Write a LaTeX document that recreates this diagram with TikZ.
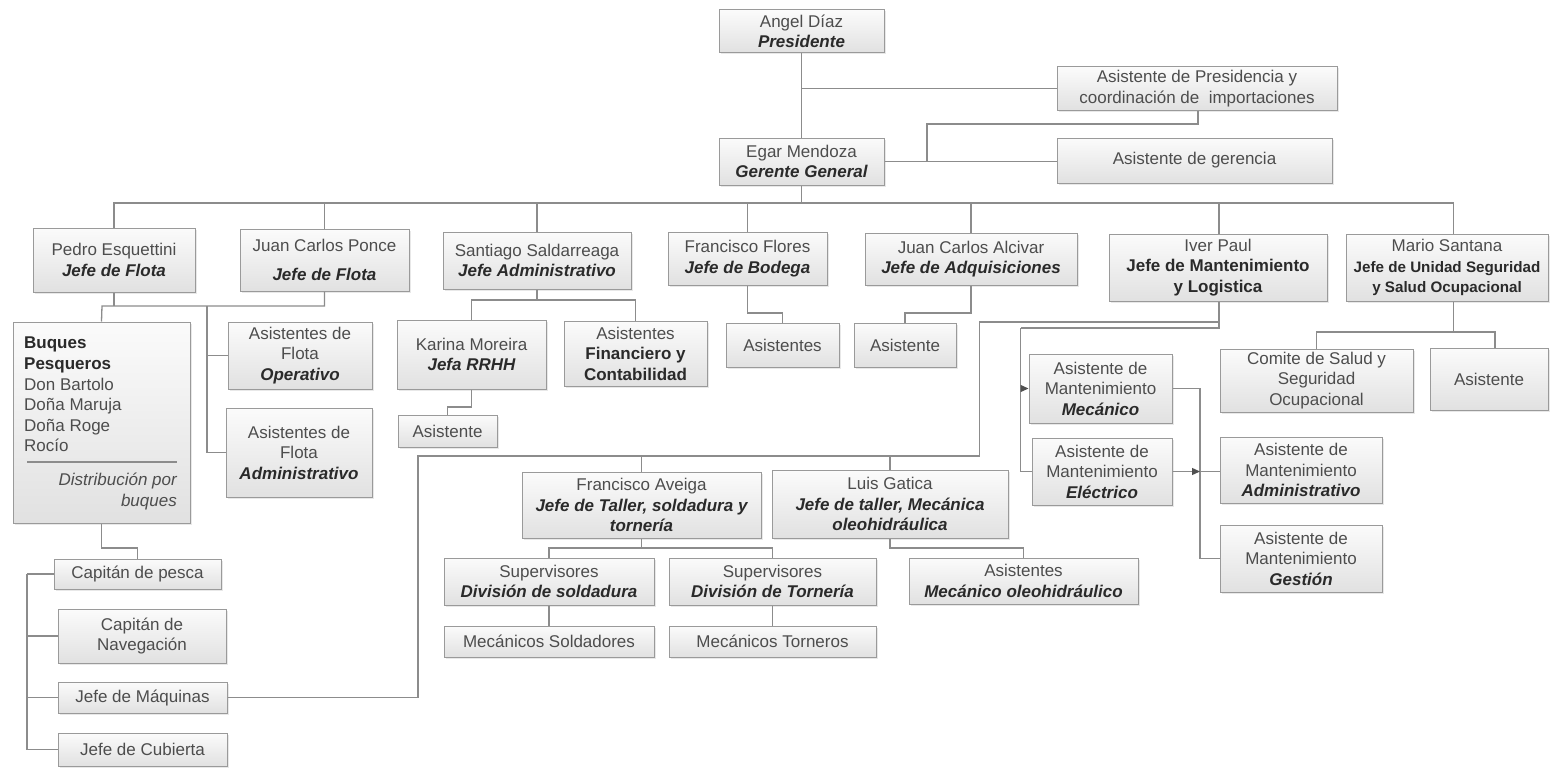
\documentclass[tikz,border=0pt]{standalone}
\usepackage{fontspec}
\setmainfont{Liberation Sans}
\usetikzlibrary{arrows.meta,shadows}

\definecolor{lnc}{HTML}{8C8C8C}
\definecolor{bxline}{HTML}{9A9A9A}
\definecolor{bxtop}{HTML}{FBFBFB}
\definecolor{bxbot}{HTML}{E1E1E1}
\definecolor{txc}{HTML}{4D4D4D}
\definecolor{titc}{HTML}{2A2A2A}
\definecolor{tipc}{HTML}{505050}

% role lines: bold italic, bold, and small bold
\newcommand\rolbi[1]{{\bfseries\itshape\color{titc}#1}}
\newcommand\rolb[1]{{\bfseries\color{titc}#1}}
\newcommand\rolbs[1]{{\fontsize{15.2}{18}\selectfont\bfseries\color{titc}#1}}

% box from its corners: [opts]{name}{x1}{y1}{x2}{y2}{text}
\newcommand\obox[7][]{\node[box,#1,minimum width={(#5)-(#3)},minimum height={(#6)-(#4)}] (#2) at ({((#3)+(#5))/2},{((#4)+(#6))/2}) {#7};}

\tikzset{
  box/.style={draw=bxline, line width=1pt, top color=bxtop, bottom color=bxbot,
    inner sep=0pt, align=center, text=txc, font=\fontsize{17}{20.5}\selectfont,
    drop shadow={shadow xshift=1.5pt,shadow yshift=-1.5pt,opacity=0.18}},
  conn/.style={draw=lnc, line width=1.3pt},
  tip/.style={-{Triangle[length=8pt,width=7pt,color=tipc]}},
}

\begin{document}
\begin{tikzpicture}[x=1pt,y=-1pt]
\fill[white] (0,0) rectangle (1551,768);
\useasboundingbox (0,0) rectangle (1551,768);

% ---------- top management ----------
\obox{pres}{719}{10}{884}{53}{Angel Díaz\\ \rolbi{Presidente}}
\obox{asispres}{1057}{67}{1337}{110}{Asistente de Presidencia y\\coordinación de\ \ importaciones}
\obox{gg}{719}{138}{884}{185}{Egar Mendoza\\ \rolbi{Gerente General}}
\obox{asisger}{1057}{138}{1332}{183}{Asistente de gerencia}

% ---------- heads ----------
\obox{pedro}{33}{228}{195}{292}{Pedro Esquettini\\ \rolbi{Jefe de Flota}}
\obox{ponce}{240}{229}{409}{291}{Juan Carlos Ponce\\[8pt] \rolbi{Jefe de Flota}}
\obox{santiago}{443}{232}{631}{289}{Santiago Saldarreaga\\ \rolbi{Jefe Administrativo}}
\obox{flores}{668}{232}{827}{285}{Francisco Flores\\ \rolbi{Jefe de Bodega}}
\obox{alcivar}{865}{233}{1077}{285}{Juan Carlos Alcivar\\ \rolbi{Jefe de Adquisiciones}}
\obox{iver}{1109}{234}{1327}{301}{Iver Paul\\ \rolb{Jefe de Mantenimiento}\\ \rolb{y Logistica}}
\obox{mario}{1346}{234}{1548}{301}{Mario Santana\\ \rolbs{Jefe de Unidad Seguridad}\\ \rolbs{y Salud Ocupacional}}

% ---------- fleet ----------
\obox{buques}{13}{322}{190}{523}{}
\node[anchor=north west, align=left, inner sep=0pt, text=txc, font=\fontsize{17}{20.6}\selectfont] (bqlist) at (24,337)
  {\rolb{Buques}\\ \rolb{Pesqueros}\\Don Bartolo\\Doña Maruja\\Doña Roge\\Rocío};
\draw[draw=lnc, line width=1.5pt] (27,462) -- (177,462);
\node[anchor=north east, align=right, inner sep=0pt, text=txc, font=\fontsize{17}{20.6}\itshape] (bqdist) at (177,473)
  {Distribución por\\buques};
\obox{flotaop}{228}{322}{372}{389}{Asistentes de\\Flota\\ \rolbi{Operativo}}
\obox{flotaadm}{226}{408}{372}{497}{Asistentes de\\Flota\\ \rolbi{Administrativo}}

\obox{cpesca}{54}{559}{221}{589}{Capitán de pesca}
\obox{cnav}{58}{609}{226}{663}{Capitán de\\Navegación}
\obox{jmaq}{58}{682}{227}{713}{Jefe de Máquinas}
\obox{jcub}{58}{733}{227}{766}{Jefe de Cubierta}

% ---------- administration, storage, purchasing ----------
\obox{karina}{397}{320}{546}{389}{Karina Moreira\\ \rolbi{Jefa RRHH}}
\obox{financ}{564}{321}{707}{386}{Asistentes\\ \rolb{Financiero y}\\ \rolb{Contabilidad}}
\obox{asisrh}{398}{415}{497}{447}{Asistente}
\obox{bodasis}{726}{323}{839}{367}{Asistentes}
\obox{adqasis}{854}{323}{956}{367}{Asistente}

% ---------- maintenance ----------
\obox{meca}{1029}{354}{1172}{423}{Asistente de\\Mantenimiento\\ \rolbi{Mecánico}}
\obox{elec}{1032}{438}{1172}{505}{Asistente de\\Mantenimiento\\ \rolbi{Eléctrico}}
\obox{madm}{1220}{437}{1382}{503}{Asistente de\\Mantenimiento\\ \rolbi{Administrativo}}
\obox{mges}{1220}{525}{1382}{592}{Asistente de\\Mantenimiento\\ \rolbi{Gestión}}

\obox{aveiga}{522}{472}{761}{538}{Francisco Aveiga\\ \rolbi{Jefe de Taller, soldadura y}\\ \rolbi{tornería}}
\obox{gatica}{772}{470}{1008}{538}{Luis Gatica\\ \rolbi{Jefe de taller, Mecánica}\\ \rolbi{oleohidráulica}}
\obox{supsold}{444}{558}{654}{605}{Supervisores\\ \rolbi{División de soldadura}}
\obox{suptorn}{669}{558}{876}{605}{Supervisores\\ \rolbi{División de Tornería}}
\obox{olehasis}{909}{558}{1138}{604}{Asistentes\\ \rolbi{Mecánico oleohidráulico}}
\obox{mecsold}{444}{626}{654}{657}{Mecánicos Soldadores}
\obox{mectorn}{669}{626}{876}{657}{Mecánicos Torneros}

% ---------- safety ----------
\obox{comite}{1220}{349}{1413}{412}{Comite de Salud y\\Seguridad\\Ocupacional}
\obox{sasis}{1430}{348}{1548}{410}{Asistente}

% ---------- junction points ----------
\coordinate (bus) at (0,203);
\coordinate (pj) at (0,88.5);
\coordinate (gj1) at (1198,124);
\coordinate (gj2) at (927,124);
\coordinate (fl) at (102,306);
\coordinate (fv) at (207,306);
\coordinate (sa) at (0,300);
\coordinate (ka) at (0,407);
\coordinate (bo) at (0,313);
\coordinate (iva) at (979.5,322);
\coordinate (ivb) at (979.5,456);
\coordinate (ivc) at (418,456);
\coordinate (mv) at (1020.5,328);
\coordinate (mr) at (1200,388.5);
\coordinate (ma) at (0,332);
\coordinate (av) at (0,548);
\coordinate (gt) at (1023.5,548);
\coordinate (bq) at (0,548);
\coordinate (sp) at (27,574);

% ---------- connectors ----------
\begin{scope}[conn]
  % top
  \draw (pres.south) -- (gg.north);
  \draw (pres.south |- pj) -- (asispres.west);
  \draw (gg.east) -- (gg.east -| asisger.west);
  \draw (asispres.south -| gj1) -- (gj1) -- (gj2) -- (gj2 |- gg.east);
  % main bus
  \draw (gg.south) -- (gg.south |- bus);
  \draw (pedro.north) -- (pedro.north |- bus) -- ([xshift=6.5pt]mario.north |- bus) -- ([xshift=6.5pt]mario.north);
  \foreach \n in {ponce,santiago,flores,alcivar}
    \draw (\n.north) -- (\n.north |- bus);
  \draw ([xshift=1pt]iver.north) -- ([xshift=1pt]iver.north |- bus);
  % fleet
  \draw (pedro.south) -- (pedro.south |- fl);
  \draw (ponce.south) -- (ponce.south |- fl) -- (fl) -- (buques.north);
  \draw (fv) -- (fv |- flotaadm.west) -- (flotaadm.west);
  \draw (fv |- flotaop.west) -- (flotaop.west);
  \draw (buques.south) -- (buques.south |- bq) -- (cpesca.north |- bq) -- (cpesca.north);
  \draw (sp) -- (sp |- jcub.west) -- (jcub.west);
  \draw (sp) -- (cpesca.west);
  \draw (sp |- cnav.west) -- (cnav.west);
  \draw (sp |- jmaq.west) -- (jmaq.west);
  % administration
  \draw (santiago.south) -- (santiago.south |- sa);
  \draw (karina.north) -- (karina.north |- sa) -- (financ.north |- sa) -- (financ.north);
  \draw (karina.south) -- (karina.south |- ka) -- (asisrh.north |- ka) -- (asisrh.north);
  \draw (flores.south) -- (flores.south |- bo) -- (bodasis.north |- bo) -- (bodasis.north);
  \draw (alcivar.south) -- (alcivar.south |- bo) -- (adqasis.north |- bo) -- (adqasis.north);
  % maintenance: workshops and engine room
  \draw ([xshift=1pt]iver.south) -- ([xshift=1pt]iver.south |- mv) -- (mv);
  \draw ([xshift=1pt]iver.south |- iva) -- (iva) -- (ivb) -- (ivc) -- (ivc |- jmaq.east) -- (jmaq.east);
  \draw (aveiga.north |- ivb) -- (aveiga.north);
  \draw (gatica.north |- ivb) -- (gatica.north);
  \draw (aveiga.south) -- (aveiga.south |- av);
  \draw (supsold.north) -- (supsold.north |- av) -- (suptorn.north |- av) -- (suptorn.north);
  \draw (gatica.south) -- (gatica.south |- gt) -- (gt) -- (olehasis.north);
  \draw (supsold.south) -- (mecsold.north);
  \draw (suptorn.south) -- (mectorn.north);
  % maintenance assistants
  \draw (mv) -- (mv |- elec.west) -- (elec.west);
  \draw[tip] (mv |- meca.west) -- (meca.west);
  \draw (meca.east) -- (mr) -- (mr |- mges.west) -- (mges.west);
  \draw[tip] (elec.east) -- (mr |- elec.east);
  \draw (mr |- elec.east) -- (elec.east -| madm.west);
  % safety
  \draw ([xshift=6.5pt]mario.south) -- ([xshift=6.5pt]mario.south |- ma);
  \draw (comite.north) -- (comite.north |- ma) -- ([xshift=6pt]sasis.north |- ma) -- ([xshift=6pt]sasis.north);
\end{scope}
\end{tikzpicture}
\end{document}
